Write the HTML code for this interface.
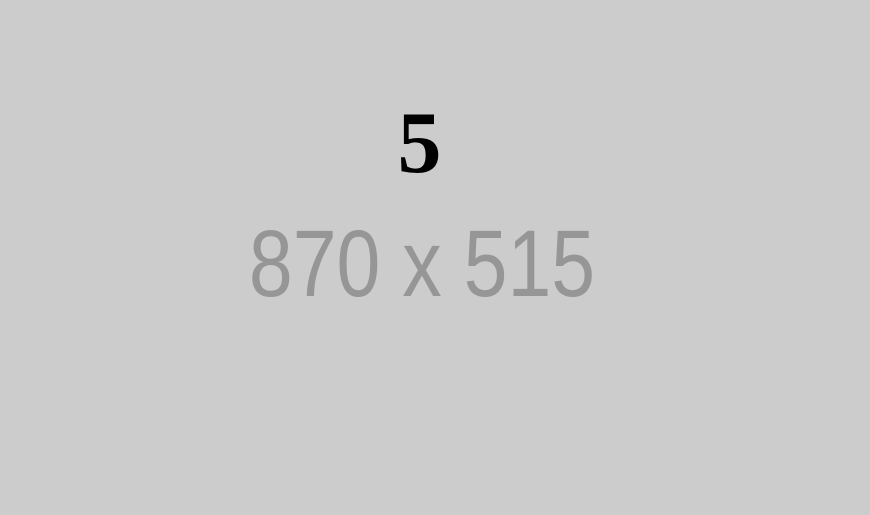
<!DOCTYPE html>
<html>
<head>
<meta charset="utf-8">
<style>
  html, body { margin: 0; padding: 0; width: 870px; height: 515px; overflow: hidden; background: #cccccc; }
  svg { display: block; }
</style>
</head>
<body>
<svg width="870" height="515" viewBox="0 0 870 515">
  <rect x="0" y="0" width="870" height="515" fill="#cccccc"/>
  <text x="419.5" y="172" text-anchor="middle" font-family="Liberation Serif, serif" font-weight="bold" font-size="88" fill="#000000">5</text>
  <g transform="translate(422,296) scale(0.83,1)">
    <text x="0" y="0" text-anchor="middle" font-family="Liberation Sans, sans-serif" font-size="95" fill="#969696">870 x 515</text>
  </g>
</svg>
</body>
</html>
